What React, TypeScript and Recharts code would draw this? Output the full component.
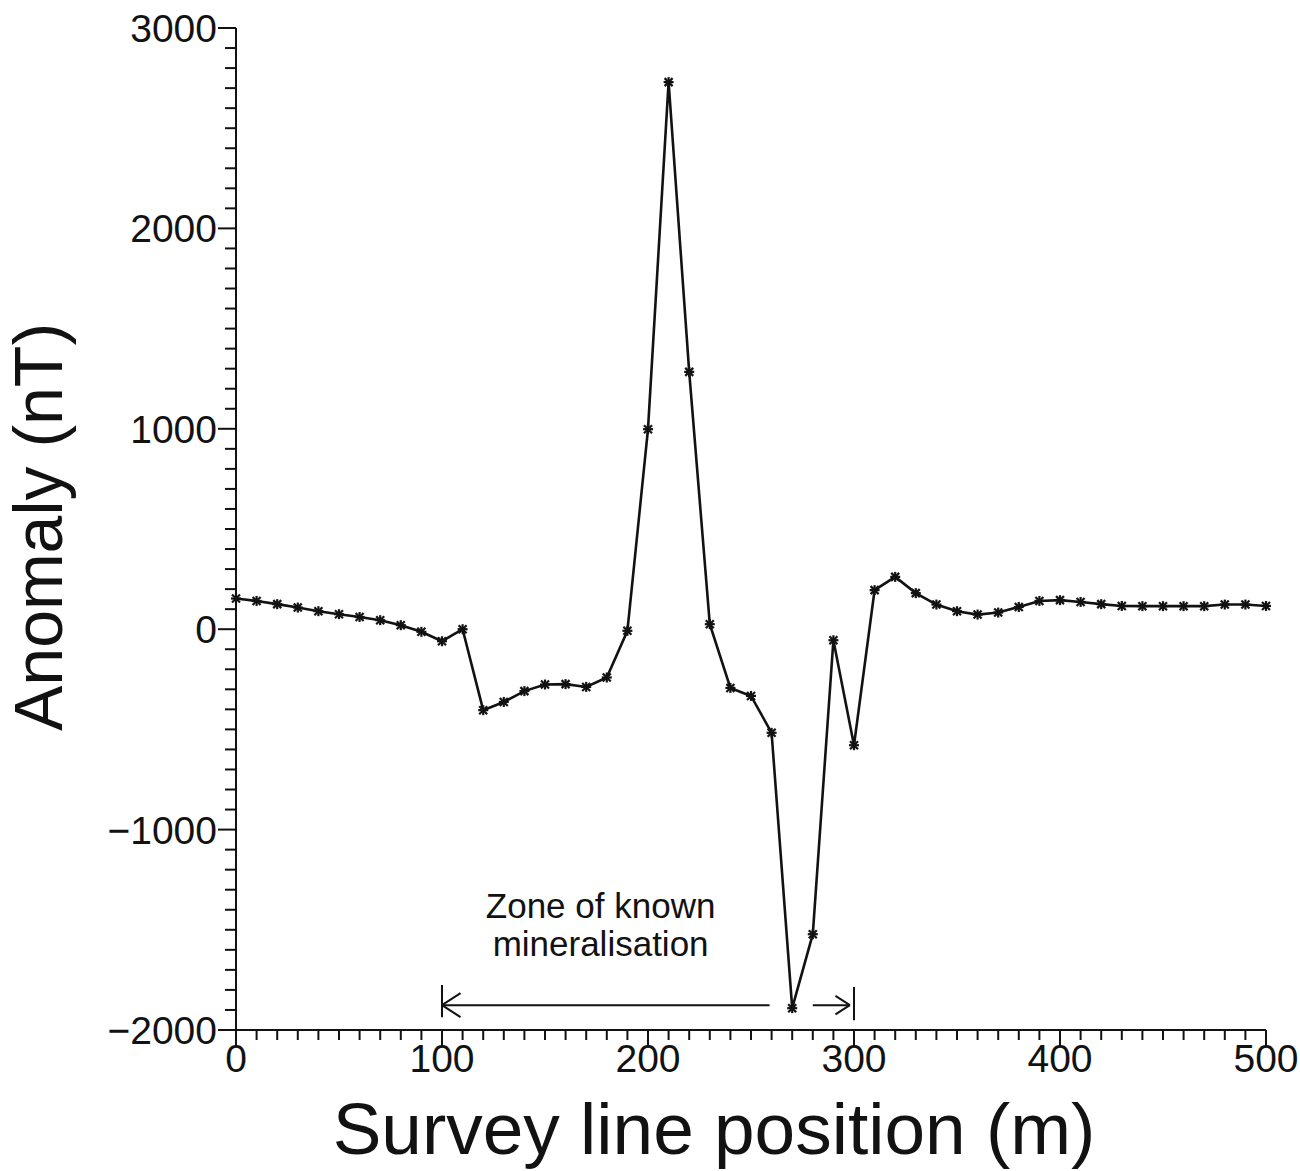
import React from "react";
import { LineChart, Line, XAxis, YAxis, ReferenceLine, ReferenceDot } from "recharts";

// Survey line positions (m)
const positions = [
  0, 10, 20, 30, 40, 50, 60, 70, 80, 90,
  100, 110, 120, 130, 140, 150, 160, 170, 180, 190,
  200, 210, 220, 230, 240, 250, 260, 270, 280, 290,
  300, 310, 320, 330, 340, 350, 360, 370, 380, 390,
  400, 410, 420, 430, 440, 450, 460, 470, 480, 490, 500,
];

// Magnetic anomaly (nT)
const anomaly = [
  153, 141, 125, 108, 90, 75, 61, 45, 20, -13,
  -60, 0, -404, -363, -309, -276, -274, -288, -241, -8,
  998, 2730, 1284, 25, -293, -333, -517, -1891, -1522, -55,
  -579, 195, 261, 180, 123, 90, 73, 83, 111, 141,
  145, 136, 125, 116, 115, 115, 115, 115, 123, 123, 116,
];

const xMajorTicks = [0, 100, 200, 300, 400, 500];
const yMajorTicks = [-2000, -1000, 0, 1000, 2000, 3000];
const xMinorStep = 10;
const yMinorStep = 100;

const xTicks: number[] = [];
for (let v = 0; v <= 500; v += xMinorStep) xTicks.push(v);
const yTicks: number[] = [];
for (let v = -2000; v <= 3000; v += yMinorStep) yTicks.push(v);

const zoneStart = 100;
const zoneEnd = 300;
const zoneLabel = ["Zone of known", "mineralisation"];

const data = positions.map((p, i) => ({ x: p, y: anomaly[i] }));

const FONT = "'Liberation Sans', Arial, Helvetica, sans-serif";
const INK = "#121212";

const fmt = (v: number) => (v < 0 ? "\u2212" + Math.abs(v) : String(v));

const XTick = (props: any) => {
  const { x, y, payload } = props;
  const major = xMajorTicks.includes(payload.value);
  return (
    <g>
      <line x1={x} x2={x} y1={y} y2={y + (major ? 15 : 10)} stroke={INK} strokeWidth={2} />
      {major && (
        <text x={x} y={y + 42} textAnchor="middle" fontSize={39} fontFamily={FONT} fill={INK}>
          {fmt(payload.value)}
        </text>
      )}
    </g>
  );
};

const YTick = (props: any) => {
  const { x, y, payload } = props;
  const major = yMajorTicks.includes(payload.value);
  return (
    <g>
      <line x1={x} x2={x - (major ? 18 : 11)} y1={y} y2={y} stroke={INK} strokeWidth={2} />
      {major && (
        <text x={x - 19} y={y + 14} textAnchor="end" fontSize={39} fontFamily={FONT} fill={INK}>
          {fmt(payload.value)}
        </text>
      )}
    </g>
  );
};

const Star = (props: any) => {
  const { cx, cy, index } = props;
  if (cx == null || cy == null) return <g key={index} />;
  const r = 5;
  const d = r * 0.8;
  return (
    <g key={index} stroke={INK} strokeWidth={2.2}>
      <line x1={cx - r} x2={cx + r} y1={cy} y2={cy} />
      <line x1={cx} x2={cx} y1={cy - r} y2={cy + r} />
      <line x1={cx - d} x2={cx + d} y1={cy - d} y2={cy + d} />
      <line x1={cx - d} x2={cx + d} y1={cy + d} y2={cy - d} />
    </g>
  );
};

const XTitle = (props: any) => {
  const vb = props.viewBox;
  return (
    <text
      x={vb.x + vb.width / 2 - 37}
      y={vb.y + 124}
      textAnchor="middle"
      fontSize={73}
      fontFamily={FONT}
      fill={INK}
    >
      Survey line position (m)
    </text>
  );
};

const YTitle = (props: any) => {
  const vb = props.viewBox;
  const cx = 62;
  const cy = vb.y + vb.height / 2 - 2;
  return (
    <text
      x={cx}
      y={cy}
      transform={`rotate(-90 ${cx} ${cy})`}
      textAnchor="middle"
      fontSize={68}
      fontFamily={FONT}
      fill={INK}
    >
      Anomaly (nT)
    </text>
  );
};

const ZoneText = (line: string) => (props: any) => {
  const vb = props.viewBox;
  return (
    <text x={vb.cx ?? vb.x} y={vb.cy ?? vb.y} textAnchor="middle" fontSize={35} fontFamily={FONT} fill={INK}>
      {line}
    </text>
  );
};

const segStyle = { stroke: INK, strokeWidth: 2 };

export default function App() {
  return (
    <div style={{ position: "absolute", left: 0, top: 0 }}>
      <LineChart
        width={1300}
        height={1171}
        data={data}
        margin={{ top: 28, right: 34, left: 0, bottom: 0 }}
      >
        <XAxis
          dataKey="x"
          type="number"
          domain={[0, 500]}
          ticks={xTicks}
          interval={0}
          tick={<XTick />}
          tickLine={false}
          tickSize={0}
          tickMargin={0}
          axisLine={{ stroke: INK, strokeWidth: 2 }}
          height={141}
          label={<XTitle />}
        />
        <YAxis
          type="number"
          domain={[-2000, 3000]}
          ticks={yTicks}
          interval={0}
          tick={<YTick />}
          tickLine={false}
          tickSize={0}
          tickMargin={0}
          axisLine={{ stroke: INK, strokeWidth: 2 }}
          width={236}
          label={<YTitle />}
        />
        <ReferenceLine segment={[{ x: zoneStart, y: -1776 }, { x: zoneStart, y: -1936 }]} {...segStyle} />
        <ReferenceLine segment={[{ x: zoneStart, y: -1876 }, { x: 259, y: -1876 }]} {...segStyle} />
        <ReferenceLine segment={[{ x: zoneStart + 9, y: -1816 }, { x: zoneStart, y: -1876 }]} {...segStyle} />
        <ReferenceLine segment={[{ x: zoneStart, y: -1876 }, { x: zoneStart + 9, y: -1936 }]} {...segStyle} />
        <ReferenceLine segment={[{ x: zoneEnd, y: -1786 }, { x: zoneEnd, y: -1951 }]} {...segStyle} />
        <ReferenceLine segment={[{ x: 280, y: -1876 }, { x: zoneEnd - 2, y: -1876 }]} {...segStyle} />
        <ReferenceLine segment={[{ x: zoneEnd - 9, y: -1830 }, { x: zoneEnd - 2, y: -1876 }]} {...segStyle} />
        <ReferenceLine segment={[{ x: zoneEnd - 2, y: -1876 }, { x: zoneEnd - 9, y: -1922 }]} {...segStyle} />
        <ReferenceDot x={177} y={-1442} r={0} fill="none" stroke="none" label={ZoneText(zoneLabel[0])} />
        <ReferenceDot x={177} y={-1632} r={0} fill="none" stroke="none" label={ZoneText(zoneLabel[1])} />
        <Line
          type="linear"
          dataKey="y"
          stroke={INK}
          strokeWidth={2.6}
          dot={(p: any) => <Star key={p.index} {...p} />}
          activeDot={false}
          isAnimationActive={false}
        />
      </LineChart>
    </div>
  );
}
